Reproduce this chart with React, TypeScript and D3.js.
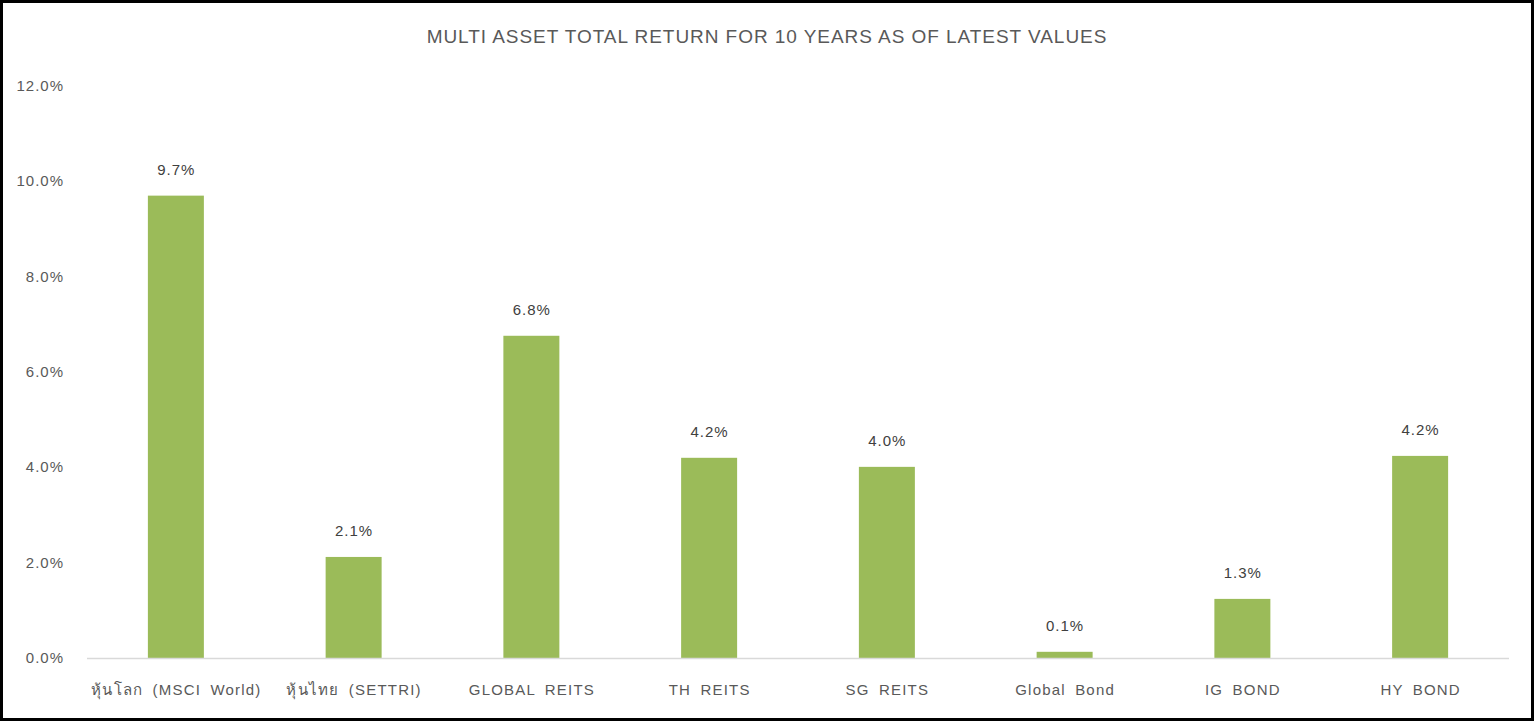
import React from "react";
import * as d3 from "d3";

const categories = [
  "หุ้นโลก (MSCI World)",
  "หุ้นไทย (SETTRI)",
  "GLOBAL REITS",
  "TH REITS",
  "SG REITS",
  "Global Bond",
  "IG BOND",
  "HY BOND",
];
const values = [9.7, 2.12, 6.76, 4.2, 4.01, 0.13, 1.24, 4.24];
const labels = ["9.7%", "2.1%", "6.8%", "4.2%", "4.0%", "0.1%", "1.3%", "4.2%"];
const yTicks = [0, 2, 4, 6, 8, 10, 12];
const title = "MULTI ASSET TOTAL RETURN FOR 10 YEARS AS OF LATEST VALUES";

const W = 1534;
const H = 721;
const FONT = "'Liberation Sans', Arial, 'Noto Sans', sans-serif";

export default function App() {
  const x = d3.scaleBand<string>().domain(categories).range([87, 1509]).paddingInner(0.685).paddingOuter(0.3425);
  const y = d3.scaleLinear().domain([0, 12]).range([658, 86]);
  return (
    <svg width={W} height={H} style={{ position: "absolute", left: 0, top: 0, background: "#fff" }}>
      <rect x={0} y={0} width={W} height={H} fill="#fff" />
      <text x={767} y={43} textAnchor="middle" fontFamily={FONT} fontSize={19} letterSpacing={0.95} fill="#595959">
        {title}
      </text>
      {yTicks.map((t) => (
        <text key={t} x={64} y={y(t) + 5} textAnchor="end" fontFamily={FONT} fontSize={15} letterSpacing={1} fill="#595959">
          {d3.format(".1f")(t) + "%"}
        </text>
      ))}
      {categories.map((c, i) => (
        <g key={c}>
          <rect x={x(c)} y={y(values[i])} width={x.bandwidth()} height={y(0) - y(values[i])} fill="#9bbb59" />
          <text
            x={(x(c) as number) + x.bandwidth() / 2 + 0.5}
            y={y(values[i]) - 21}
            textAnchor="middle"
            fontFamily={FONT}
            fontSize={15}
            letterSpacing={1}
            fill="#404040"
          >
            {labels[i]}
          </text>
          <text
            x={(x(c) as number) + x.bandwidth() / 2 + 0.5}
            y={695}
            textAnchor="middle"
            fontFamily={FONT}
            fontSize={15}
            letterSpacing={1.2}
            wordSpacing={4}
            fill="#595959"
          >
            {c}
          </text>
        </g>
      ))}
      <line x1={87} x2={1509} y1={658.5} y2={658.5} stroke="#d9d9d9" strokeWidth={1.5} />
      <rect x={1.5} y={1.5} width={W - 3} height={H - 3} fill="none" stroke="#000" strokeWidth={3} />
    </svg>
  );
}
